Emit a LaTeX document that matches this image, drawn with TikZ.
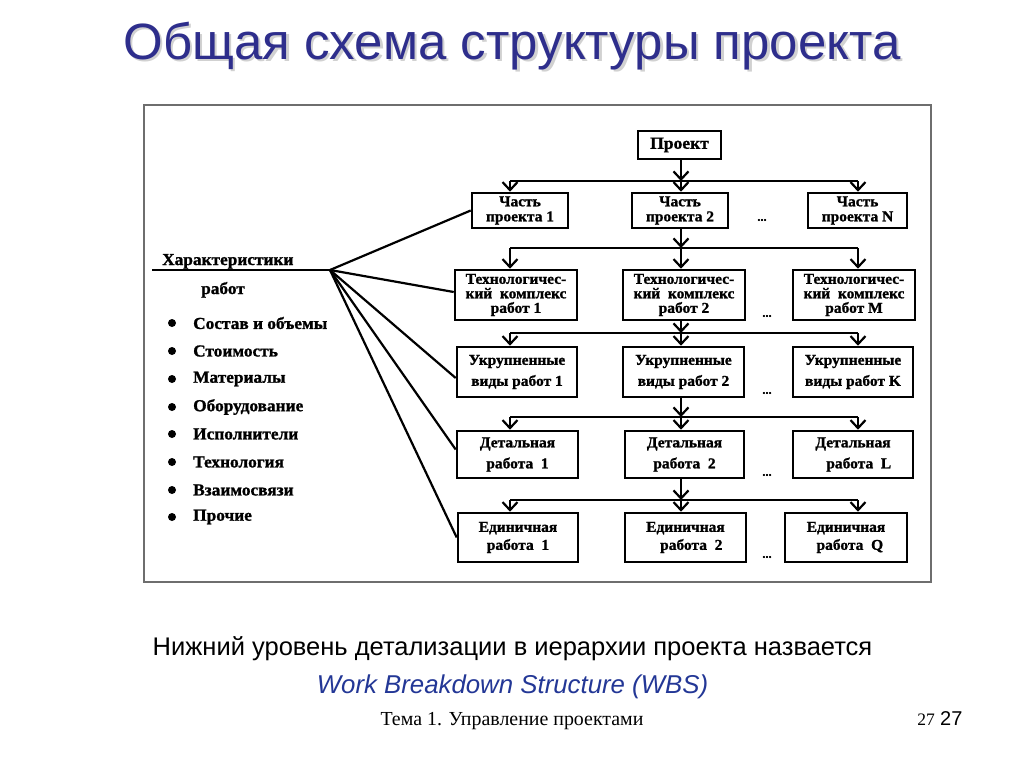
\documentclass[tikz,border=0pt]{standalone}
\usepackage{fontspec}
\setmainfont{Liberation Serif}
\newfontfamily\sans{Liberation Sans}
\newfontfamily\bx[FakeStretch=1.03,FakeBold=1.2]{Liberation Serif Bold}
\usetikzlibrary{arrows.meta,calc}
\definecolor{titleblue}{RGB}{46,46,140}
\definecolor{wbsblue}{RGB}{35,55,150}
\definecolor{framegray}{RGB}{110,110,110}
\begin{document}
\begin{tikzpicture}[x=1pt,y=-1pt,
  wbox/.style={draw,line width=2.6pt,inner sep=0pt,align=center,font=\fontsize{15}{15}\bx},
  conn/.style={line width=2.2pt},
  arr/.style={line width=2.2pt,-{Straight Barb[length=8pt,width=15pt,line width=2.2pt]}},
  dotsnode/.style={font=\fontsize{12}{12}\bx,inner sep=0pt},
  lefttxt/.style={font=\fontsize{16.8}{16.8}\bx,inner sep=0pt},
  bullet/.style={circle,fill,inner sep=0pt,minimum size=8pt}
]
\useasboundingbox (0,0) rectangle (1024,767);
\fill[white] (0,0) rectangle (1024,767);

% title
\node[font=\fontsize{51}{51}\sans, text=black!18] (titleshadow) at (514.5,48.5) {Общая схема структуры проекта};
\node[font=\fontsize{51}{51}\sans, text=titleblue] (title) at (512,46) {Общая схема структуры проекта};

% frame
\node[draw=framegray,line width=2.5pt,minimum width=787pt,minimum height=477pt,inner sep=0pt] (frame) at (537.5,343.5) {};

% boxes
\node[wbox,minimum width=83pt,minimum height=28pt,font=\fontsize{17}{18}\bx] (proj) at (679.5,145) {Проект};

\node[wbox,minimum width=96pt,minimum height=35pt] (p1) at (520,210.5) {Часть\\проекта 1};
\node[wbox,minimum width=96pt,minimum height=35pt] (p2) at (680,210.5) {Часть\\проекта 2};
\node[wbox,minimum width=99pt,minimum height=35pt] (pN) at (857.5,210.5) {Часть\\проекта N};

\node[wbox,minimum width=122pt,minimum height=50pt,font=\fontsize{15}{14.5}\bx] (t1) at (516,295) {Технологичес-\\кий\ \ комплекс\\работ 1};
\node[wbox,minimum width=122pt,minimum height=50pt,font=\fontsize{15}{14.5}\bx] (t2) at (684,295) {Технологичес-\\кий\ \ комплекс\\работ 2};
\node[wbox,minimum width=122pt,minimum height=50pt,font=\fontsize{15}{14.5}\bx] (tM) at (854,295) {Технологичес-\\кий\ \ комплекс\\работ M};

\node[wbox,minimum width=120pt,minimum height=50pt,font=\fontsize{15}{21}\bx] (u1) at (517,372) {Укрупненные\\виды работ 1};
\node[wbox,minimum width=121pt,minimum height=50pt,font=\fontsize{15}{21}\bx] (u2) at (683.5,372) {Укрупненные\\виды работ 2};
\node[wbox,minimum width=120pt,minimum height=50pt,font=\fontsize{15}{21}\bx] (uK) at (853,372) {Укрупненные\\виды работ K};

\node[wbox,minimum width=121pt,minimum height=47pt,font=\fontsize{15}{21}\bx] (d1) at (517.5,454.5) {Детальная\\работа\ \ 1};
\node[wbox,minimum width=119pt,minimum height=47pt,font=\fontsize{15}{21}\bx] (d2) at (684.5,454.5) {Детальная\\работа\ \ 2};
\node[wbox,minimum width=120pt,minimum height=47pt,font=\fontsize{15}{21}\bx] (dL) at (853,454.5) {Детальная\\\ \ \ работа\ \ L};

\node[wbox,minimum width=120pt,minimum height=49pt,font=\fontsize{15}{18}\bx] (e1) at (518,537.5) {Единичная\\работа\ \ 1};
\node[wbox,minimum width=121pt,minimum height=49pt,font=\fontsize{15}{18}\bx] (e2) at (685.5,537.5) {Единичная\\\ \ \ работа\ \ 2};
\node[wbox,minimum width=122pt,minimum height=49pt,font=\fontsize{15}{18}\bx] (eQ) at (846,537.5) {Единичная\\\ \ работа\ \ Q};

% dots
\node[dotsnode] (dots1) at (762,220) {...};
\node[dotsnode] (dots2) at (767,316) {...};
\node[dotsnode] (dots3) at (767,393) {...};
\node[dotsnode] (dots4) at (767,475) {...};
\node[dotsnode] (dots5) at (767,557) {...};

% bus coordinates
\coordinate (b1) at (681,181);
\coordinate (b2) at (681,248);
\coordinate (b3) at (681,333);
\coordinate (b4) at (681,417);
\coordinate (b5) at (681,500);
\foreach \b/\top/\l/\m/\r in {b1/proj/p1/p2/pN, b2/p2/t1/t2/tM, b3/t2/u1/u2/uK, b4/u2/d1/d2/dL, b5/d2/e1/e2/eQ}{
  \coordinate (\b L) at ($(\b)+(-171,0)$);
  \coordinate (\b R) at ($(\b)+(177,0)$);
  \draw[arr] (\b |- \top.south) -- (\b);
  \draw[conn] (\b L) -- (\b R);
  \draw[arr] (\b L) -- (\b L |- \l.north);
  \draw[arr] (\b) -- (\b |- \m.north);
  \draw[arr] (\b R) -- (\b R |- \r.north);
}

% left panel
\node[lefttxt,anchor=base west] (char) at (162,265) {Характеристики};
\coordinate (ul) at (152,270);
\coordinate (F) at (330,270);
\draw[conn] (ul) -- (F);
\node[lefttxt,anchor=base] (rab) at (223,294) {работ};

\foreach \y/\t [count=\i] in {323/Состав и объемы, 351/Стоимость, 379/Материалы, 407/Оборудование, 434/Исполнители, 462/Технология, 490/Взаимосвязи, 517/Прочие}{
  \node[bullet] (bul\i) at (172,\y) {};
  \node[lefttxt,anchor=west] (item\i) at (193,\y) {\t};
}

\draw[conn] (F) -- (p1.west);
\draw[conn] (F) -- ($(t1.west)+(0,-3)$);
\draw[conn] (F) -- ($(u1.west)+(0,6)$);
\draw[conn] (F) -- ($(d1.west)+(0,-5)$);
\draw[conn] (F) -- (e1.west);

% bottom texts
\node[font=\fontsize{25.5}{25.5}\sans,anchor=base,inner sep=0pt] (low) at (512.5,655) {Нижний уровень детализации в иерархии проекта назвается};
\node[font=\fontsize{25.8}{25.8}\sans\itshape,text=wbsblue,anchor=base,inner sep=0pt] (wbs) at (512.5,693) {Work Breakdown Structure (WBS)};
\node[font=\fontsize{19.9}{19.9}\selectfont,anchor=base,inner sep=0pt] (tema) at (512,725) {Тема 1. Управление проектами};
\node[font=\fontsize{17.5}{17.5}\selectfont,anchor=base east,inner sep=0pt] (pg1) at (935,725) {27};
\node[font=\fontsize{20}{20}\sans,anchor=base west,inner sep=0pt] (pg2) at (940,725) {27};
\end{tikzpicture}
\end{document}
